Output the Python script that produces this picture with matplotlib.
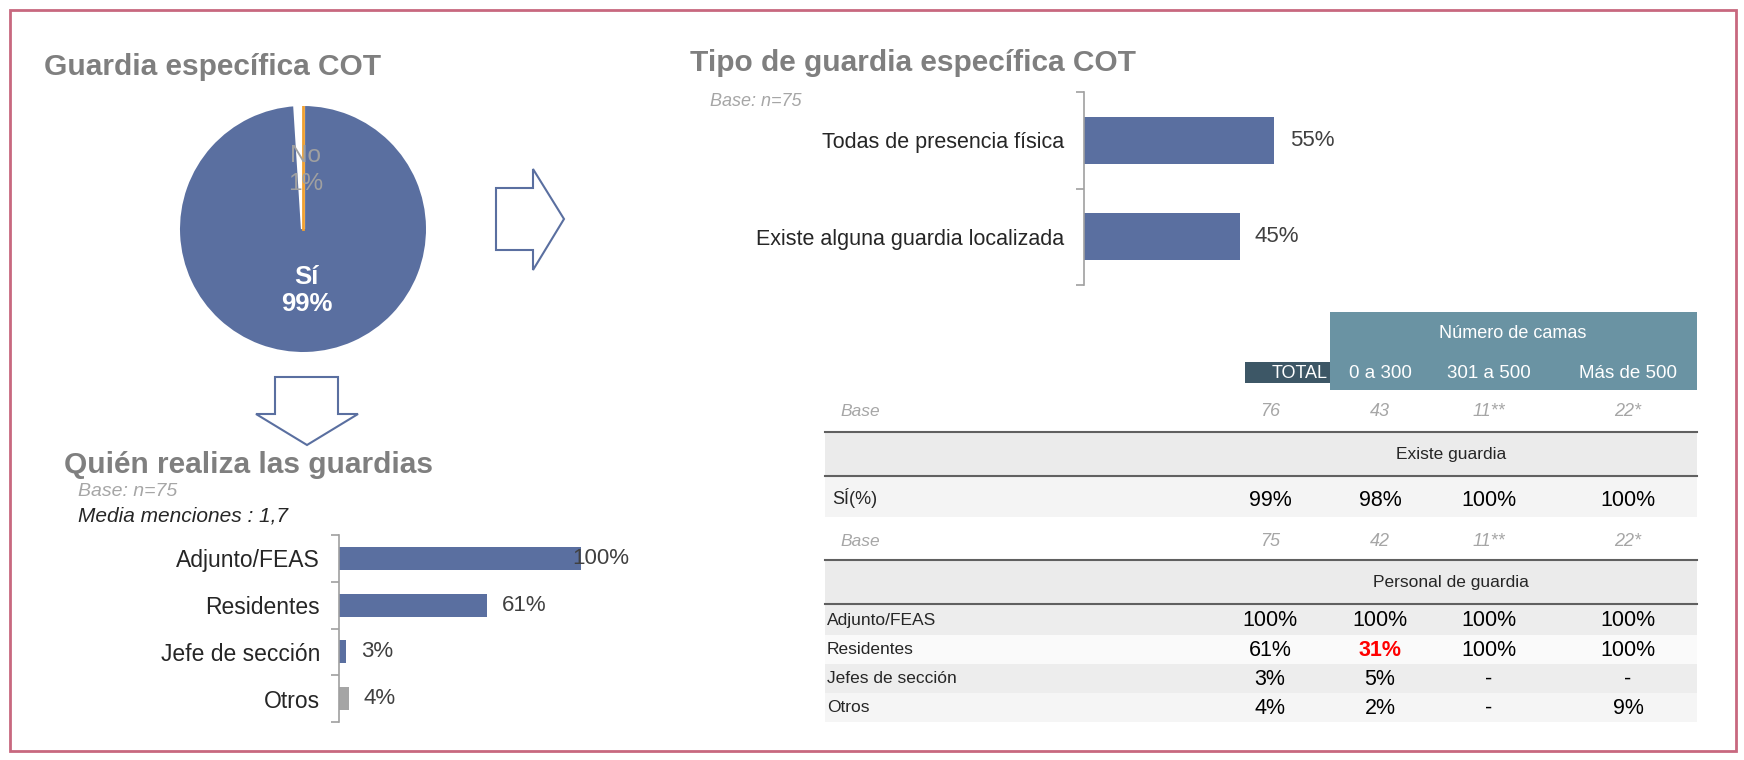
import matplotlib

matplotlib.use("Agg")

import numpy as np
import matplotlib.pyplot as plt
from matplotlib.patches import Polygon, Rectangle

plt.rcParams["font.family"] = ["Liberation Sans", "DejaVu Sans"]

W, H = 1744, 760

# pie: guardia específica
pie_labels = ["No", "Sí"]
pie_values = [1, 99]

# tipo de guardia
tipo_labels = ["Todas de presencia física", "Existe alguna guardia localizada"]
tipo_values = [55, 45]

# quién realiza las guardias
quien_labels = ["Adjunto/FEAS", "Residentes", "Jefe de sección", "Otros"]
quien_values = [100, 61, 3, 4]

# table by number of beds
group_header = "Número de camas"
col_labels = ["TOTAL", "0 a 300", "301 a 500", "Más de 500"]
base_existe = ["76", "43", "11**", "22*"]
existe_label = "SÍ(%)"
existe_values = [99, 98, 100, 100]
base_personal = ["75", "42", "11**", "22*"]
personal_labels = ["Adjunto/FEAS", "Residentes", "Jefes de sección", "Otros"]
personal_values = [
    [100, 100, 100, 100],
    [61, 31, 100, 100],
    [3, 5, None, None],
    [4, 2, None, 9],
]
highlight_cells = [(1, 1)]

BLUE = "#5A6FA0"
ORANGE = "#F0A030"
TITLE_GRAY = "#7F7F7F"
TEXT = "#262626"
LIGHT = "#A6A6A6"


def px_axes(fig, left, top, right, bottom):
    return fig.add_axes([left / W, 1 - bottom / H, (right - left) / W, (bottom - top) / H])


def fmt_pct(v):
    return "-" if v is None else f"{v}%"


fig = plt.figure(figsize=(W / 100, H / 100), dpi=100, facecolor="white")

canvas = fig.add_axes([0, 0, 1, 1])
canvas.set_xlim(0, W)
canvas.set_ylim(H, 0)
canvas.axis("off")

canvas.add_patch(Rectangle((10, 10), 1726, 741, fill=False, edgecolor="#C8687F", linewidth=2))

# titles
canvas.text(44, 67, "Guardia específica COT", fontsize=21.5, fontweight="bold", color=TITLE_GRAY, va="center")
canvas.text(690, 63, "Tipo de guardia específica COT", fontsize=21.5, fontweight="bold", color=TITLE_GRAY, va="center")
canvas.text(64, 465, "Quién realiza las guardias", fontsize=21.5, fontweight="bold", color=TITLE_GRAY, va="center")
canvas.text(710, 102, "Base: n=75", fontsize=13, style="italic", color=LIGHT, va="center")
canvas.text(78, 491, "Base: n=75", fontsize=14, style="italic", color=LIGHT, va="center")
canvas.text(78, 516, "Media menciones : 1,7", fontsize=15, style="italic", color=TEXT, va="center")

# arrows
canvas.add_patch(Polygon([(496, 188), (533, 188), (533, 169), (564, 219), (533, 270), (533, 250), (496, 250)],
                         closed=True, fill=False, edgecolor=BLUE, linewidth=1.5))
canvas.add_patch(Polygon([(275, 377), (338, 377), (338, 414), (358, 414), (307, 445), (256, 414), (275, 414)],
                         closed=True, fill=False, edgecolor=BLUE, linewidth=1.5))

# pie
pie_ax = px_axes(fig, 180, 106, 426, 352)
wedges, _ = pie_ax.pie(pie_values, startangle=90, counterclock=True, colors=["white", BLUE])
no_wedge = wedges[0]
no_wedge.set_edgecolor("white")
no_wedge.set_linewidth(3)
no_wedge.set_zorder(3)
edge_angle = np.deg2rad(no_wedge.theta1)
pie_ax.plot([0, np.cos(edge_angle)], [0, np.sin(edge_angle)], color=ORANGE, linewidth=2, zorder=4)
pie_ax.set_aspect("auto")
pie_ax.set_xlim(-1, 1)
pie_ax.set_ylim(-1, 1)
pie_ax.text(0.02, 0.48, f"{pie_labels[0]}\n{pie_values[0]}%", ha="center", va="center",
            fontsize=17.5, color="#A0A0A0", linespacing=1.35, zorder=5)
pie_ax.text(0.03, -0.5, f"{pie_labels[1]}\n{pie_values[1]}%", ha="center", va="center",
            fontsize=18.5, fontweight="bold", color="white", linespacing=1.2, zorder=5)


def hbar(ax, labels, values, colors, label_pad, label_size, value_cap):
    pos = list(range(len(values)))
    ax.barh(pos, values, height=0.49, color=colors)
    ax.set_ylim(len(values) - 0.5, -0.5)
    ax.set_xlim(0, 100)
    ax.set_yticks(pos)
    ax.set_yticklabels(labels)
    ax.set_yticks([p - 0.5 for p in pos] + [len(values) - 0.5], minor=True)
    ax.tick_params(axis="y", which="major", length=0, pad=label_pad, labelsize=label_size, labelcolor=TEXT)
    ax.tick_params(axis="y", which="minor", length=6, width=1.2, color="#A0A0A0")
    ax.set_xticks([])
    for side in ("top", "right", "bottom"):
        ax.spines[side].set_visible(False)
    ax.spines["left"].set_color("#A0A0A0")
    ax.spines["left"].set_linewidth(1.2)
    ax.patch.set_alpha(0)
    for p, v in zip(pos, values):
        ax.annotate(f"{v}%", xy=(min(v, value_cap), p), xytext=(11, 0), textcoords="offset points",
                    va="center", ha="left", fontsize=16, color="#404040", annotation_clip=False)


tipo_ax = px_axes(fig, 1084, 92, 1430, 285)
hbar(tipo_ax, tipo_labels, tipo_values, BLUE, 14.5, 15.5, 100)

quien_ax = px_axes(fig, 339, 535, 581, 722)
hbar(quien_ax, quien_labels, quien_values, [BLUE, BLUE, BLUE, "#A5A5A5"], 13.7, 16.5, 90)

# table
col_x = [1270, 1380, 1489, 1628]
t_left, t_right = 825, 1697
canvas.add_patch(Rectangle((1330, 312), 367, 78, color="#6A93A3", linewidth=0))
canvas.add_patch(Rectangle((1245, 362), 85, 21, color="#3D5766", linewidth=0))
canvas.text(1513, 333, group_header, ha="center", va="center", fontsize=13, color="white")
canvas.text(1328, 373, col_labels[0], ha="right", va="center", fontsize=13, color="white")
for x, lab in zip(col_x[1:], col_labels[1:]):
    canvas.text(x, 373, lab, ha="center", va="center", fontsize=13.5, color="white")


def section(y0, y1, title):
    canvas.add_patch(Rectangle((t_left, y0), t_right - t_left, y1 - y0, color="#EBEBEB", linewidth=0))
    canvas.plot([t_left, t_right], [y0, y0], color="#606060", linewidth=1.5)
    canvas.plot([t_left, t_right], [y1, y1], color="#606060", linewidth=1.5)
    canvas.text(1451, (y0 + y1) / 2, title, ha="center", va="center", fontsize=12.5, color=TEXT)


def base_row(y, values):
    canvas.text(840, y, "Base", ha="left", va="center", fontsize=12.5, style="italic", color=LIGHT)
    for x, v in zip(col_x, values):
        canvas.text(x, y, v, ha="center", va="center", fontsize=13, style="italic", color=LIGHT)


base_row(411, base_existe)
section(432, 476, "Existe guardia")
canvas.add_patch(Rectangle((t_left, 476), t_right - t_left, 41, color="#F4F4F4", linewidth=0))
canvas.text(832, 498, existe_label, ha="left", va="center", fontsize=13, color=TEXT)
for x, v in zip(col_x, existe_values):
    canvas.text(x, 500, fmt_pct(v), ha="center", va="center", fontsize=15.5, color="black")

base_row(541, base_personal)
section(560, 604, "Personal de guardia")
row_edges = [605, 635, 664, 693, 722]
row_bg = ["#EDEDED", "#FAFAFA", "#EDEDED", "#F5F5F5"]
for i, (lab, vals) in enumerate(zip(personal_labels, personal_values)):
    y0, y1 = row_edges[i], row_edges[i + 1]
    canvas.add_patch(Rectangle((t_left, y0), t_right - t_left, y1 - y0, color=row_bg[i], linewidth=0))
    yc = (y0 + y1) / 2
    canvas.text(827, yc, lab, ha="left", va="center", fontsize=12.5, color=TEXT)
    for j, (x, v) in enumerate(zip(col_x, vals)):
        hl = (i, j) in highlight_cells
        canvas.text(x, yc + 1, fmt_pct(v), ha="center", va="center", fontsize=15.5,
                    color="#FF0000" if hl else "black", fontweight="bold" if hl else "normal")

fig.savefig("out.png", dpi=100, facecolor="white")
plt.close(fig)
